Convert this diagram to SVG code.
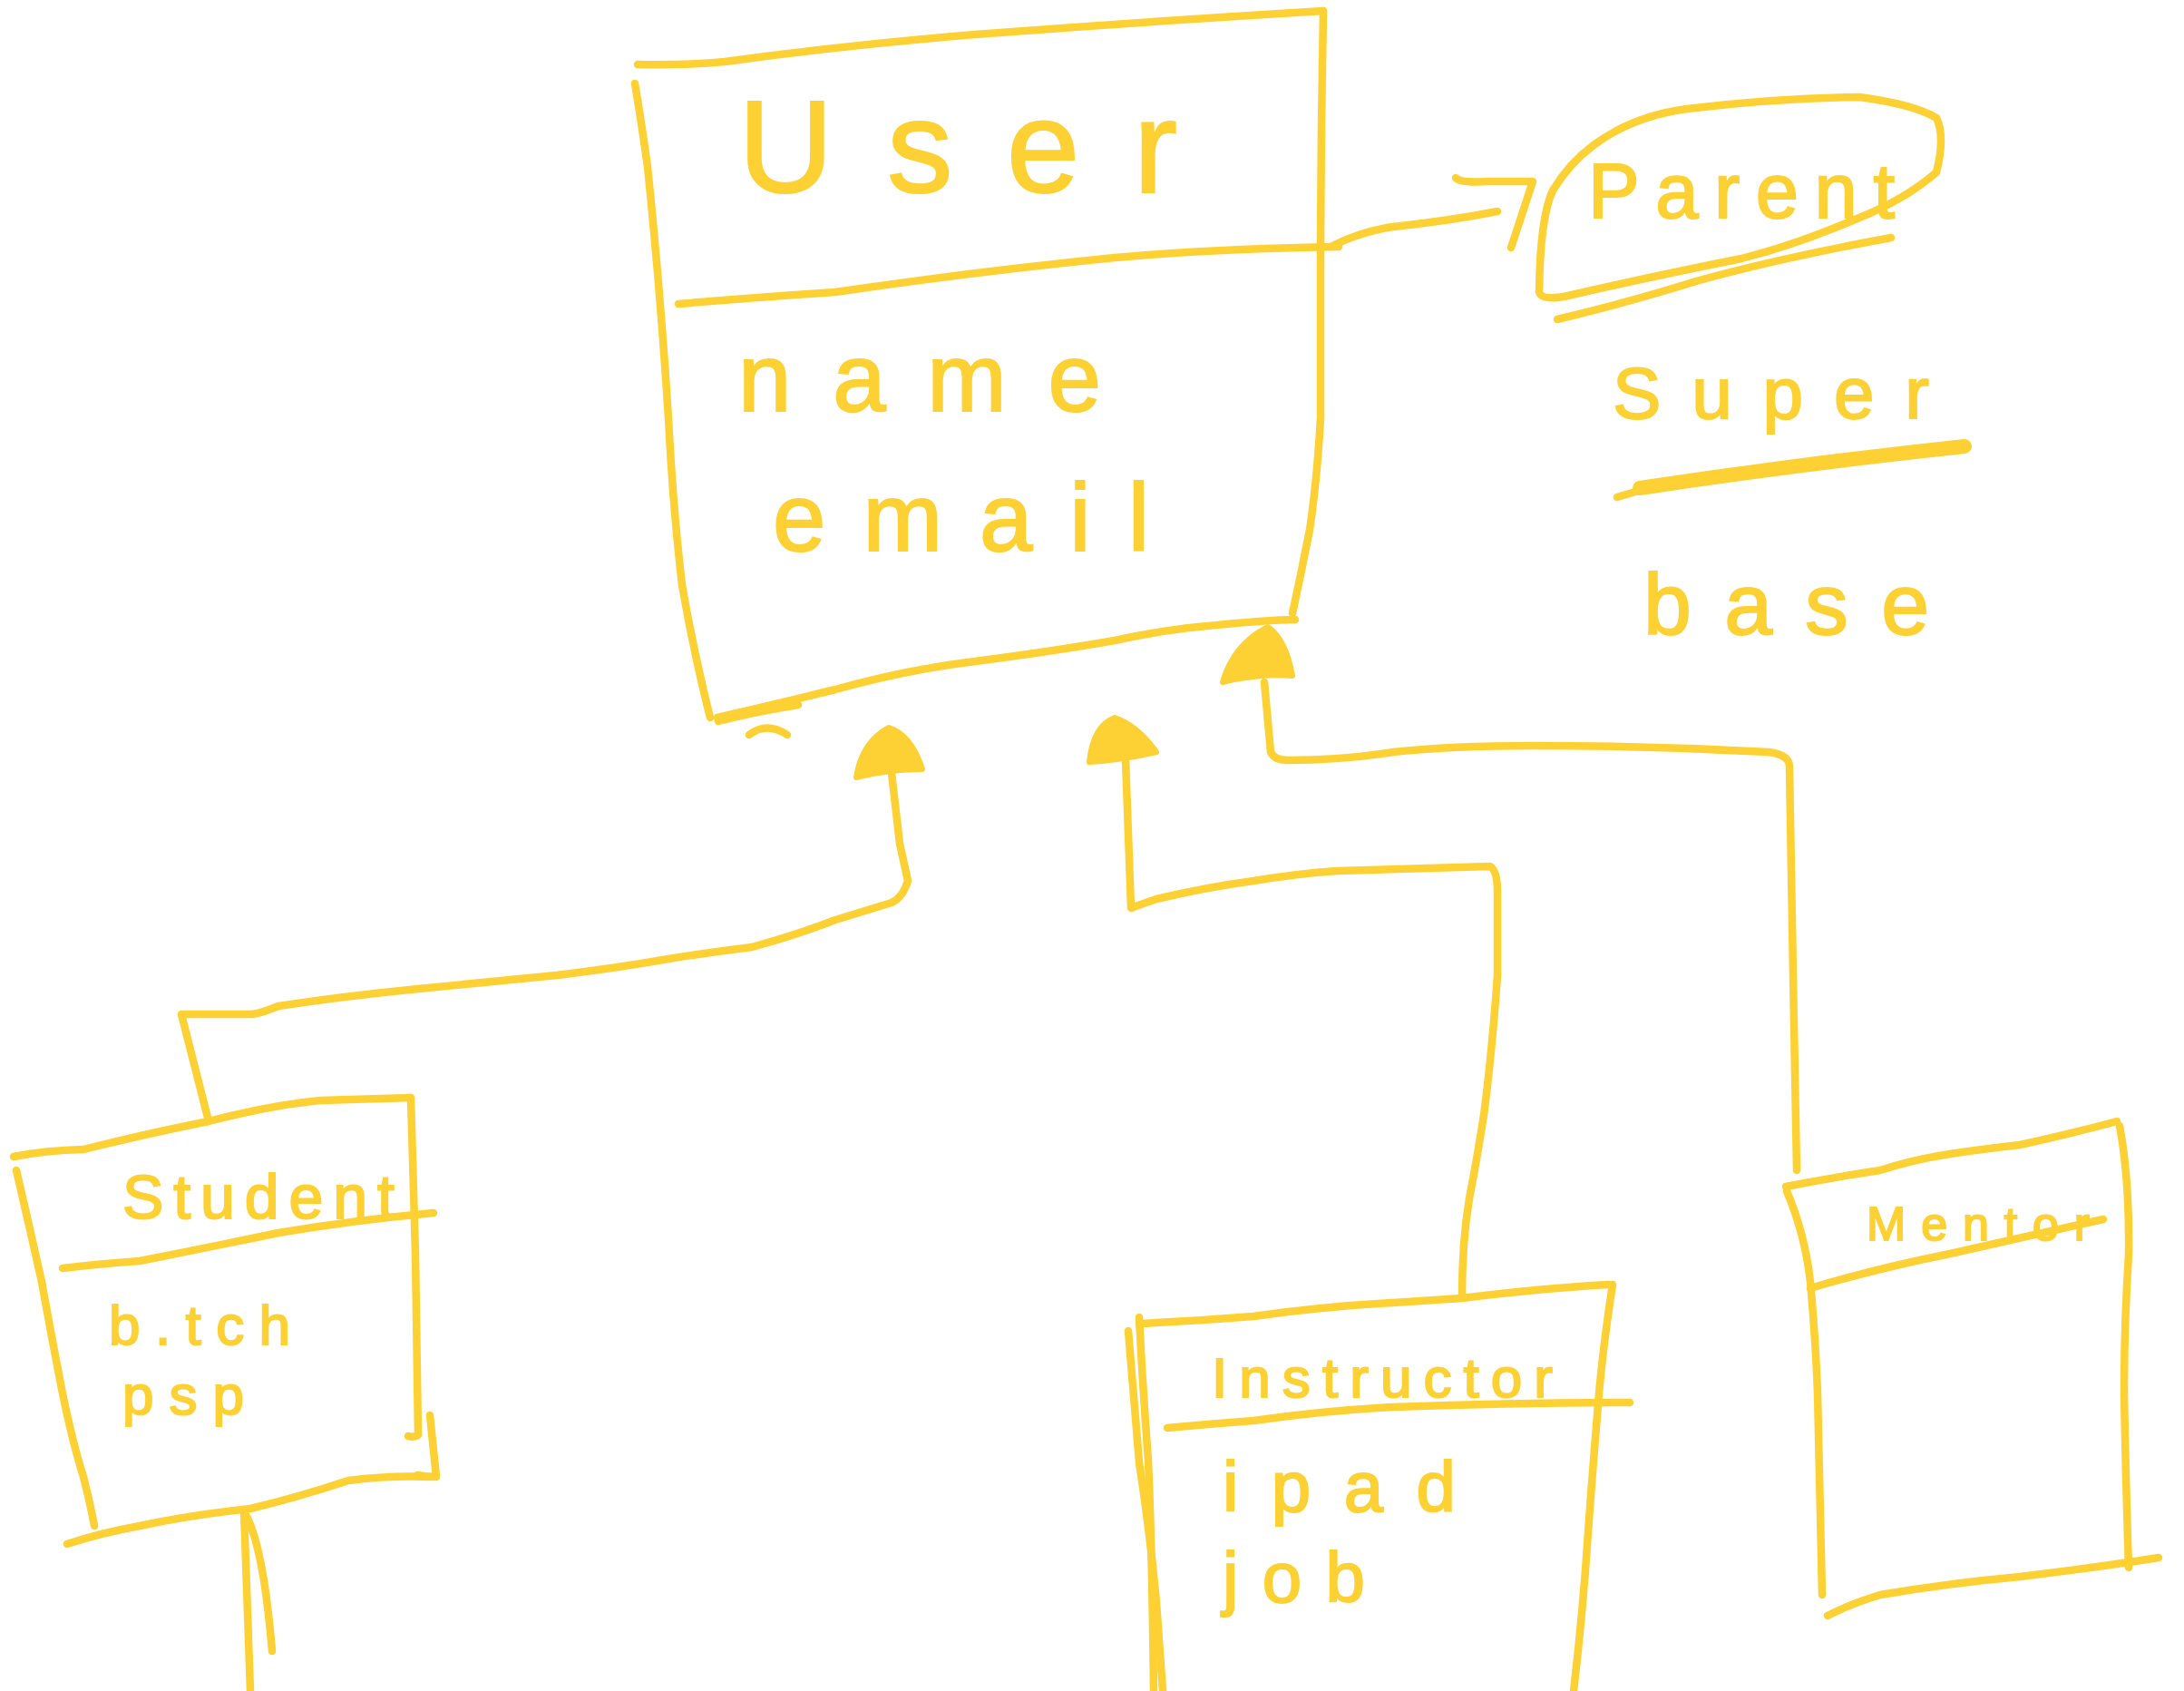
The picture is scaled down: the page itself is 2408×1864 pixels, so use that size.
<svg xmlns="http://www.w3.org/2000/svg" width="2408" height="1864" viewBox="0 0 2408 1864">
<style>
.s{fill:none;stroke:#FDD133;stroke-width:8.5;stroke-linecap:round;stroke-linejoin:round}
.thick{fill:none;stroke:#FDD133;stroke-width:16;stroke-linecap:round}
.f{fill:#FDD133;stroke:#FDD133;stroke-width:6;stroke-linejoin:round}
.t{fill:#FDD133;stroke:#FDD133;stroke-width:2;font-family:"Liberation Sans","DejaVu Sans",sans-serif}
</style>
<rect width="2408" height="1864" fill="#ffffff"/>
<g id="connectors">
  <path class="s" d="M983,852 L992,930 L1001,971 Q995,990 983,995 Q950,1005 921,1014 Q880,1030 829,1044 Q780,1050 737,1057 Q680,1067 614,1075 Q540,1082 461,1090 Q380,1098 307,1109 Q285,1118 276,1118 L200,1118 L230,1236"/>
  <path class="s" d="M1241,837 L1247,1001 Q1255,998 1275,991 Q1330,978 1382,971 Q1430,963 1474,960 L1643,955 Q1651,960 1651,983 L1651,1075 Q1645,1160 1636,1229 Q1628,1280 1620,1321 Q1612,1370 1612,1428"/>
  <path class="s" d="M1394,752 L1401,829 Q1405,838 1420,838 Q1480,838 1536,829 Q1600,822 1689,822 Q1820,822 1950,829 Q1973,832 1973,845 L1977,1075 L1981,1290"/>
  <path class="s" d="M1467,272 Q1500,255 1536,250 Q1600,243 1651,233"/>
  <path class="s" d="M1605,196 Q1610,202 1640,200 L1690,200 L1666,273"/>
  <path class="f" d="M1348,752 Q1360,710 1398,691 Q1418,705 1425,745 Q1390,742 1348,752 Z"/>
  <path class="f" d="M944,857 Q950,818 980,802 Q1005,810 1017,848 Q980,848 944,857 Z"/>
  <path class="f" d="M1201,840 Q1205,800 1229,791 Q1255,800 1275,829 Q1240,838 1201,840 Z"/>
  <path class="s" d="M269,1666 Q290,1700 300,1820"/>
  <path class="s" d="M269,1666 L276,1864"/>
</g>
<g id="user">
  <path class="s" d="M703,71 Q760,72 799,68 Q930,50 1075,38 Q1260,24 1459,12"/>
  <path class="s" d="M700,92 Q708,140 714,184 Q728,320 737,461 Q742,560 752,645 Q765,720 783,791"/>
  <path class="s" d="M1459,12 Q1456,160 1456,307 L1456,461 Q1452,530 1444,584 Q1435,630 1425,676"/>
  <path class="s" d="M748,335 Q830,328 921,322 Q1070,300 1229,284 Q1340,274 1476,272"/>
  <path class="s" d="M791,791 Q860,775 921,760 Q1000,738 1075,729 Q1160,718 1229,706 Q1280,695 1321,691 Q1400,683 1428,683"/>
  <path class="s" d="M792,795 Q830,785 880,777"/>
  <path class="s" d="M826,810 Q845,795 868,810"/>
  <text class="t" x="814" y="212" font-size="145" textLength="484" lengthAdjust="spacing">User</text>
  <text class="t" x="814" y="453" font-size="105" textLength="400" lengthAdjust="spacing">name</text>
  <text class="t" x="852" y="607" font-size="105" textLength="415" lengthAdjust="spacing">email</text>
</g>
<g id="parent-note">
  <path class="s" d="M1697,322 Q1698,240 1712,210 Q1730,180 1757,160 Q1800,128 1860,120 Q1960,108 2050,107 Q2110,115 2135,130 Q2145,150 2135,190 Q2100,220 2050,240 Q1980,270 1920,285 Q1820,305 1733,325 Q1700,333 1697,322 Z"/>
  <path class="s" d="M1717,352 Q1800,332 1870,310 Q1960,285 2085,262"/>
  <text class="t" x="1751" y="240" font-size="85" textLength="338" lengthAdjust="spacing">Parent</text>
  <text class="t" x="1778" y="461" font-size="80" textLength="349" lengthAdjust="spacing">Super</text>
  <path class="thick" d="M1808,538 Q1980,512 2166,492"/>
  <path class="s" d="M1783,548 L1810,540"/>
  <text class="t" x="1812" y="699" font-size="95" textLength="315" lengthAdjust="spacing">base</text>
</g>
<g id="student">
  <path class="s" d="M15,1275 Q50,1268 92,1267 Q160,1250 230,1236 Q300,1218 353,1213 L453,1210"/>
  <path class="s" d="M18,1290 Q32,1350 46,1413 Q58,1480 69,1536 Q80,1590 92,1628 Q100,1660 104,1682"/>
  <path class="s" d="M453,1210 Q456,1300 458,1382 L461,1582 Q455,1585 450,1583"/>
  <path class="s" d="M474,1560 Q478,1600 481,1628 Q470,1628 460,1626"/>
  <path class="s" d="M69,1398 Q110,1393 154,1390 Q230,1375 307,1359 Q390,1345 478,1337"/>
  <path class="s" d="M74,1702 Q110,1690 154,1682 Q210,1670 276,1663 Q330,1650 384,1632 Q430,1626 476,1628"/>
  <text class="t" x="135" y="1343" font-size="68" textLength="300" lengthAdjust="spacing">Student</text>
  <text class="t" x="120" y="1482" font-size="62" textLength="200" lengthAdjust="spacing">b.tch</text>
  <text class="t" x="135" y="1559" font-size="62" textLength="134" lengthAdjust="spacing">psp</text>
</g>
<g id="instructor">
  <path class="s" d="M1256,1459 Q1320,1456 1382,1451 Q1460,1440 1536,1436 Q1580,1433 1612,1431 Q1700,1420 1774,1416"/>
  <path class="s" d="M1244,1467 Q1250,1540 1256,1612 Q1268,1690 1275,1766 L1282,1864"/>
  <path class="s" d="M1256,1452 Q1260,1530 1266,1610 Q1270,1700 1272,1864"/>
  <path class="s" d="M1778,1416 Q1768,1480 1763,1536 Q1756,1620 1751,1689 Q1745,1780 1735,1864"/>
  <path class="s" d="M1287,1574 Q1330,1570 1382,1566 Q1460,1555 1536,1551 Q1670,1546 1797,1546"/>
  <text class="t" x="1336" y="1540" font-size="62" textLength="376" lengthAdjust="spacing">Instructor</text>
  <text class="t" x="1348" y="1666" font-size="78" textLength="257" lengthAdjust="spacing">ipad</text>
  <text class="t" x="1348" y="1766" font-size="78" textLength="157" lengthAdjust="spacing">job</text>
</g>
<g id="mentor">
  <path class="s" d="M1969,1308 Q2020,1298 2073,1290 Q2110,1278 2150,1272 Q2190,1266 2227,1262 Q2290,1248 2334,1236"/>
  <path class="s" d="M1970,1313 Q1990,1360 1996,1413 Q2002,1480 2004,1536 L2009,1758"/>
  <path class="s" d="M2337,1241 Q2348,1300 2347,1382 Q2342,1460 2342,1536 Q2344,1640 2347,1728"/>
  <path class="s" d="M1996,1420 Q2070,1398 2150,1382 Q2240,1362 2319,1344"/>
  <path class="s" d="M2015,1781 Q2040,1768 2073,1758 Q2150,1745 2227,1738 Q2310,1728 2380,1717"/>
  <text class="t" x="2058" y="1367" font-size="52" textLength="246" lengthAdjust="spacing">Mentor</text>
</g>
</svg>
